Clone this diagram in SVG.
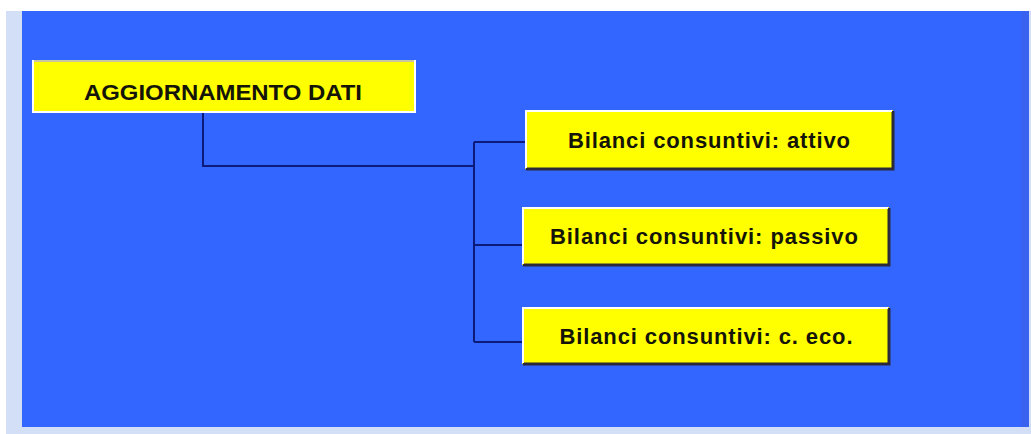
<svg xmlns="http://www.w3.org/2000/svg" width="1031" height="434" viewBox="0 0 1031 434">
<style>
.lbl{font-family:"Liberation Sans",Arial,sans-serif;font-weight:bold;font-size:22px;fill:#141408;text-anchor:middle}
.box{fill:#ffff00}
.hi{stroke:#ffffff;stroke-width:2;fill:none}
.sh{stroke:#2a2a3a;stroke-width:3;fill:none}
.conn{stroke:#0c1a7a;stroke-width:2;fill:none}
</style>
<rect x="0" y="0" width="1031" height="434" fill="#ffffff"/>
<rect x="6" y="11" width="1025" height="423" fill="#d3dff6"/>
<rect x="22" y="11" width="1007" height="416" fill="#3366ff"/>
<rect x="1021" y="11" width="8" height="416" fill="#3a62f0"/>
<g id="connectors">
<polyline class="conn" points="203,113 203,166 474,166"/>
<line class="conn" x1="474" y1="142" x2="474" y2="342"/>
<line class="conn" x1="474" y1="142" x2="525" y2="142"/>
<line class="conn" x1="474" y1="245" x2="522" y2="245"/>
<line class="conn" x1="474" y1="342" x2="522" y2="342"/>
</g>
<g id="node-main">
<rect class="box" x="32" y="60" width="384" height="53"/>
<polyline points="32,61 416,61" stroke="#c8c8a0" stroke-width="2" fill="none"/>
<polyline class="hi" points="33,60 33,112 415,112 415,60"/>
<text class="lbl" x="223" y="100" textLength="278" lengthAdjust="spacingAndGlyphs">AGGIORNAMENTO DATI</text>
</g>
<g id="node-attivo">
<rect class="box" x="525" y="110" width="368" height="59"/>
<polyline class="sh" points="526,169 893,169 893,111"/>
<polyline class="hi" points="526,168 526,111 892,111"/>
<text class="lbl" x="709" y="148" textLength="282" lengthAdjust="spacing">Bilanci consuntivi: attivo</text>
</g>
<g id="node-passivo">
<rect class="box" x="522" y="207" width="367" height="58"/>
<polyline class="sh" points="523,265 889,265 889,208"/>
<polyline class="hi" points="523,264 523,208 888,208"/>
<text class="lbl" x="704" y="244" textLength="308" lengthAdjust="spacing">Bilanci consuntivi: passivo</text>
</g>
<g id="node-eco">
<rect class="box" x="522" y="307" width="367" height="57"/>
<polyline class="sh" points="523,364 889,364 889,308"/>
<polyline class="hi" points="523,363 523,308 888,308"/>
<text class="lbl" x="706" y="344" textLength="293" lengthAdjust="spacing">Bilanci consuntivi: c. eco.</text>
</g>
</svg>
